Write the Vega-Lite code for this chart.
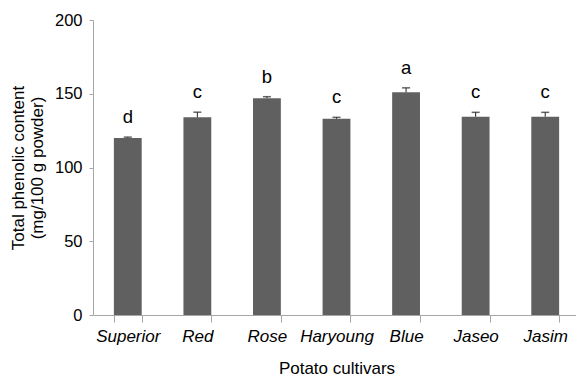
{
  "$schema": "https://vega.github.io/schema/vega-lite/v6.json",
  "autosize": {"type": "none"},
  "padding": {"left": 93, "top": 20, "right": 0, "bottom": 62},
  "width": 487,
  "height": 295,
  "background": "white",
  "config": {
    "font": "Liberation Sans",
    "view": {"stroke": null},
    "axis": {"grid": false, "labelColor": "black", "titleColor": "black", "titleFontWeight": "normal", "domainColor": "#a6a6a6", "tickColor": "#a6a6a6"}
  },
  "data": {
    "values": [
      {"cultivar": "Superior", "mean": 120, "upper": 120.6, "letter": "d"},
      {"cultivar": "Red", "mean": 134, "upper": 137.5, "letter": "c"},
      {"cultivar": "Rose", "mean": 147, "upper": 148, "letter": "b"},
      {"cultivar": "Haryoung", "mean": 133, "upper": 134, "letter": "c"},
      {"cultivar": "Blue", "mean": 151, "upper": 154, "letter": "a"},
      {"cultivar": "Jaseo", "mean": 134.4, "upper": 137.4, "letter": "c"},
      {"cultivar": "Jasim", "mean": 134.4, "upper": 137.4, "letter": "c"}
    ]
  },
  "encoding": {
    "x": {
      "field": "cultivar", "type": "nominal", "sort": null,
      "scale": {"paddingInner": 0.6, "paddingOuter": 0.3},
      "axis": {
        "title": "Potato cultivars", "titleFontSize": 17, "titlePadding": 16,
        "labelAngle": 0, "labelFontSize": 17, "labelFontStyle": "italic", "labelPadding": 6,
        "tickBand": "extent", "tickSize": 7
      }
    }
  },
  "layer": [
    {
      "mark": {"type": "bar", "color": "#606060"},
      "encoding": {
        "y": {
          "field": "mean", "type": "quantitative",
          "scale": {"domain": [0, 200]},
          "axis": {
            "title": ["Total phenolic content", "(mg/100 g powder)"],
            "titleFontSize": 17, "titleLineHeight": 19, "titlePadding": 8,
            "values": [0, 50, 100, 150, 200], "labelFontSize": 16.5, "labelPadding": 7, "tickSize": 4
          }
        }
      }
    },
    {
      "mark": {"type": "rule", "color": "#222222", "strokeWidth": 1},
      "encoding": {
        "y": {"field": "mean", "type": "quantitative"},
        "y2": {"field": "upper"}
      }
    },
    {
      "mark": {"type": "tick", "color": "#222222", "thickness": 1.5, "size": 8, "orient": "horizontal"},
      "encoding": {
        "y": {"field": "upper", "type": "quantitative"}
      }
    },
    {
      "mark": {"type": "text", "fontSize": 18.5, "baseline": "alphabetic", "dy": -14, "color": "black"},
      "encoding": {
        "y": {"field": "upper", "type": "quantitative"},
        "text": {"field": "letter"}
      }
    }
  ]
}
